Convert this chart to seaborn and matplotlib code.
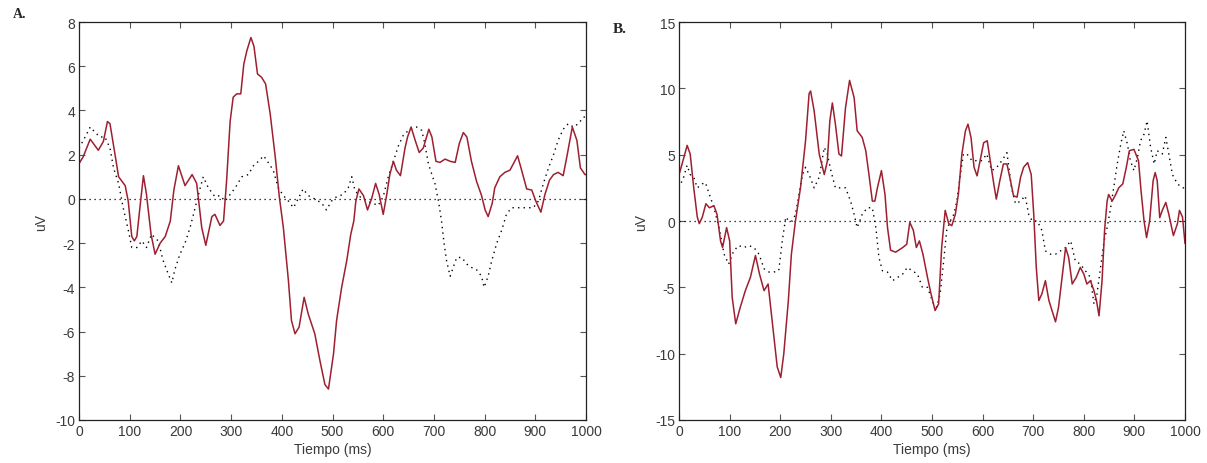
import matplotlib
matplotlib.use("Agg")
import matplotlib.pyplot as plt
import numpy as np
import seaborn as sns
import pandas as pd

# ---- panel A ----
a_red_t = [0, 8, 22, 38, 48, 56, 61, 71, 78, 91, 97, 104, 109, 114, 120, 127, 133, 142, 150, 160,
           170, 180, 187, 196, 209, 223, 232, 242, 250, 262, 268, 278, 285, 291, 298, 304, 311, 319,
           325, 331, 339, 345, 352, 360, 368, 377, 387, 395, 403, 413, 419, 426, 434, 444, 452, 465,
           475, 485, 492, 502, 508, 518, 528, 536, 542, 546, 552, 561, 569, 577, 585, 592, 600, 607,
           613, 620, 626, 634, 643, 648, 655, 663, 671, 679, 690, 696, 704, 712, 722, 732, 742, 750,
           758, 765, 774, 784, 794, 801, 807, 815, 820, 830, 840, 850, 857, 865, 873, 883, 893, 901,
           911, 919, 928, 936, 945, 955, 963, 973, 982, 989, 998, 1000]
a_red_v = [1.6, 1.9, 2.7, 2.2, 2.6, 3.5, 3.4, 2.0, 1.0, 0.6, -0.1, -1.7, -1.9, -1.7, -0.4, 1.05, 0.2,
           -1.6, -2.5, -2.0, -1.7, -1.0, 0.4, 1.5, 0.6, 1.1, 0.7, -1.3, -2.1, -0.8, -0.7, -1.2, -1.0,
           0.8, 3.5, 4.6, 4.75, 4.75, 6.1, 6.7, 7.3, 6.9, 5.65, 5.5, 5.2, 3.85, 1.9, 0.1, -1.3, -3.7,
           -5.5, -6.1, -5.8, -4.45, -5.2, -6.1, -7.3, -8.4, -8.6, -7.0, -5.5, -4.0, -2.8, -1.6, -1.0,
           -0.1, 0.45, 0.15, -0.5, 0.0, 0.7, 0.2, -0.7, 0.2, 1.1, 1.7, 1.3, 1.05, 2.3, 2.8, 3.25, 2.65,
           2.1, 2.3, 3.15, 2.8, 1.7, 1.65, 1.8, 1.7, 1.65, 2.5, 3.0, 2.8, 1.7, 0.8, 0.15, -0.5, -0.8,
           -0.2, 0.5, 1.0, 1.2, 1.3, 1.6, 1.95, 1.3, 0.45, 0.4, -0.1, -0.6, 0.2, 0.85, 1.1, 1.2, 1.05,
           2.0, 3.25, 2.65, 1.4, 1.1, 1.1]

a_dot_t = [0, 12, 22, 32, 41, 51, 61, 68, 78, 87, 97, 104, 114, 124, 133, 143, 156, 166, 176, 183,
           189, 199, 209, 219, 229, 239, 245, 255, 268, 278, 288, 298, 308, 321, 334, 344, 354, 364,
           373, 383, 393, 403, 413, 423, 432, 442, 452, 465, 479, 488, 498, 508, 521, 531, 538, 544,
           554, 567, 580, 590, 600, 610, 620, 630, 640, 653, 666, 676, 682, 689, 696, 702, 709, 715,
           720, 725, 732, 738, 745, 755, 765, 774, 784, 794, 799, 807, 814, 824, 834, 843, 853, 866,
           883, 896, 906, 916, 926, 936, 945, 955, 965, 975, 985, 995, 1000]
a_dot_v = [2.3, 2.8, 3.25, 3.0, 2.8, 2.8, 2.3, 1.4, 0.7, -0.4, -1.4, -2.2, -2.2, -1.9, -2.2, -1.6,
           -1.9, -2.8, -3.4, -3.8, -3.2, -2.5, -2.0, -1.3, -0.4, 0.5, 1.0, 0.5, 0.1, 0.15, -0.1, 0.2,
           0.5, 1.0, 1.1, 1.5, 1.7, 1.95, 1.65, 1.3, 0.5, 0.15, -0.1, -0.4, 0.0, 0.45, 0.15, 0.0, -0.2,
           -0.5, -0.1, 0.1, 0.2, 0.5, 1.0, 0.4, 0.1, -0.1, -0.2, -0.3, 0.1, 1.0, 1.7, 2.4, 2.9, 3.15,
           3.25, 3.1, 2.5, 1.6, 1.1, 0.7, -0.1, -1.0, -2.0, -2.8, -3.5, -3.1, -2.65, -2.65, -2.95, -3.1,
           -3.2, -3.5, -4.0, -3.5, -2.8, -2.0, -1.4, -0.7, -0.4, -0.4, -0.4, -0.4, -0.1, 0.7, 1.4, 2.0,
           2.65, 3.15, 3.4, 3.25, 3.4, 3.7, 3.7]

# ---- panel B ----
b_red_t = [0, 6, 16, 22, 29, 36, 40, 46, 53, 60, 69, 75, 82, 86, 94, 100, 105, 112, 121, 131, 141,
           151, 159, 168, 176, 184, 194, 201, 207, 216, 222, 230, 240, 250, 257, 260, 267, 277, 287,
           293, 298, 303, 309, 316, 321, 329, 337, 346, 352, 362, 369, 376, 382, 387, 392, 400, 407,
           412, 418, 428, 442, 450, 456, 463, 469, 475, 482, 491, 498, 506, 513, 519, 526, 533, 539,
           546, 552, 559, 566, 571, 577, 583, 589, 595, 602, 609, 615, 622, 627, 634, 641, 648, 655,
           661, 668, 675, 681, 689, 696, 701, 706, 711, 717, 724, 731, 739, 744, 750, 757, 764, 770,
           777, 785, 793, 800, 806, 813, 820, 825, 830, 836, 841, 846, 849, 856, 863, 869, 877, 884,
           890, 899, 908, 913, 919, 924, 930, 937, 941, 945, 950, 955, 962, 968, 977, 985, 989, 995,
           1000]
b_red_v = [3.5, 4.3, 5.7, 5.05, 2.5, 0.3, -0.2, 0.3, 1.3, 1.0, 1.15, 0.5, -1.5, -2.0, -0.5, -1.5,
           -5.75, -7.75, -6.5, -5.25, -4.25, -2.6, -4.0, -5.25, -4.75, -7.5, -11.0, -11.8, -10.0, -6.0,
           -2.5, 0.0, 2.5, 6.05, 9.6, 9.8, 8.3, 5.05, 3.5, 4.5, 7.55, 8.9, 7.3, 5.05, 4.9, 8.55, 10.6,
           9.3, 6.8, 6.3, 5.3, 3.3, 1.5, 1.5, 2.5, 3.8, 2.0, -0.5, -2.2, -2.35, -2.0, -1.75, -0.1, -0.7,
           -2.0, -1.5, -2.5, -4.25, -5.5, -6.75, -6.25, -2.0, 0.8, -0.2, -0.35, 0.5, 2.0, 5.05, 6.8,
           7.3, 6.3, 4.05, 3.4, 4.55, 5.9, 6.05, 4.55, 2.8, 1.65, 3.05, 4.3, 4.3, 3.05, 1.9, 1.8, 3.3,
           4.05, 4.4, 3.5, 0.5, -3.5, -6.0, -5.5, -4.5, -6.0, -7.0, -7.6, -6.5, -4.25, -2.0, -2.75,
           -4.75, -4.25, -3.5, -4.0, -4.75, -4.5, -5.25, -6.0, -7.15, -4.5, -0.7, 1.5, 2.0, 1.5, 2.0,
           2.5, 2.8, 4.05, 5.3, 5.4, 4.55, 2.3, 0.0, -1.25, 0.0, 3.05, 3.65, 3.05, 0.25, 0.8, 1.4, 0.5,
           -1.1, -0.2, 0.8, 0.3, -1.7]

b_dot_t = [0, 9, 16, 22, 29, 36, 46, 52, 60, 69, 79, 89, 98, 108, 118, 128, 138, 148, 158, 168, 178,
           187, 197, 204, 211, 217, 224, 230, 237, 244, 250, 257, 267, 277, 287, 293, 300, 309, 319,
           329, 339, 346, 352, 362, 372, 382, 389, 395, 402, 412, 422, 432, 442, 451, 461, 471, 481,
           491, 503, 509, 516, 523, 529, 536, 543, 549, 556, 562, 569, 579, 589, 599, 608, 618, 628,
           638, 648, 657, 665, 675, 684, 691, 698, 708, 717, 724, 734, 744, 754, 764, 774, 783, 793,
           803, 813, 820, 826, 833, 840, 846, 853, 859, 866, 873, 879, 886, 892, 899, 906, 912, 919,
           925, 932, 939, 945, 955, 962, 968, 975, 985, 995, 1000]
b_dot_v = [2.5, 3.3, 4.2, 3.5, 3.3, 2.5, 2.8, 2.9, 2.0, 1.0, -0.5, -2.5, -3.25, -2.25, -1.85, -2.0,
           -1.85, -2.0, -2.5, -3.6, -3.85, -3.85, -3.75, -1.5, 0.3, 0.0, 0.0, 0.5, 2.0, 3.5, 4.05, 3.5,
           2.5, 3.3, 5.55, 5.05, 3.8, 2.5, 2.5, 2.5, 1.5, 0.5, -0.5, 0.5, 1.0, 1.0, -0.5, -2.75, -3.75,
           -3.85, -4.5, -4.25, -4.0, -3.5, -3.75, -4.0, -5.0, -5.0, -6.25, -6.5, -5.5, -3.0, -0.7, 0.0,
           0.5, 1.5, 3.5, 5.05, 5.05, 4.55, 4.55, 4.55, 5.05, 3.8, 4.05, 4.55, 5.15, 2.5, 1.3, 1.5, 1.9,
           0.5, 0.0, 0.0, -0.7, -2.25, -2.5, -2.5, -2.25, -2.0, -1.5, -3.0, -3.25, -3.75, -4.25, -6.25,
           -5.5, -3.5, -1.5, -0.5, 1.0, 2.5, 4.3, 5.8, 6.8, 5.8, 4.55, 3.8, 4.8, 6.05, 6.55, 7.55, 5.55,
           4.3, 5.3, 5.05, 6.3, 5.05, 3.5, 2.8, 2.5, 2.5]

x_ticks = [0, 100, 200, 300, 400, 500, 600, 700, 800, 900, 1000]
a_yticks = [-10, -8, -6, -4, -2, 0, 2, 4, 6, 8]
b_yticks = [-15, -10, -5, 0, 5, 10, 15]

sns.set_style("ticks")
plt.rcParams['font.family'] = ['Liberation Sans Narrow', 'Liberation Sans', 'DejaVu Sans']
plt.rcParams['axes.unicode_minus'] = False

red = "#9e1f30"
txt = "#3a3a3a"

fig = plt.figure(figsize=(12.07, 4.64), dpi=100)
ax_a = fig.add_axes([0.0655, 0.0927, 0.42, 0.8577])
ax_b = fig.add_axes([0.5626, 0.0927, 0.4192, 0.8577])


def draw_panel(ax, red_t, red_v, dot_t, dot_v, yticks):
    df_red = pd.DataFrame({'t': red_t, 'v': red_v})
    df_dot = pd.DataFrame({'t': dot_t, 'v': dot_v})
    # línea de cero
    ax.plot([0, 1000], [0, 0], color='black', linestyle=(0, (1, 3)), linewidth=0.9)
    sns.lineplot(data=df_dot, x='t', y='v', ax=ax, color='black', linestyle=(0, (1, 3)),
                 linewidth=1.0, sort=False, estimator=None)
    sns.lineplot(data=df_red, x='t', y='v', ax=ax, color=red, linewidth=1.1,
                 sort=False, estimator=None)
    ax.set_xlim(0, 1000)
    ax.set_ylim(yticks[0], yticks[-1])
    ax.set_xticks(x_ticks)
    ax.set_yticks(yticks)
    ax.tick_params(direction='in', top=True, right=True, length=4, width=0.8,
                   labelsize=10, labelcolor=txt, color='#555555', pad=3)
    for s in ax.spines.values():
        s.set_visible(True)
        s.set_linewidth(0.9)
        s.set_color('#222222')
    ax.set_xlabel('Tiempo (ms)', fontsize=10, color=txt, labelpad=3)
    ax.set_ylabel('uV', fontsize=10, color=txt, labelpad=5)


draw_panel(ax_a, a_red_t, a_red_v, a_dot_t, a_dot_v, a_yticks)
draw_panel(ax_b, b_red_t, b_red_v, b_dot_t, b_dot_v, b_yticks)

fig.text(0.011, 0.968, 'A.', family='Liberation Serif', fontweight='bold', fontsize=10,
         va='center', ha='left')
fig.text(0.508, 0.937, 'B.', family='Liberation Serif', fontweight='bold', fontsize=11,
         va='center', ha='left')

fig.savefig('out.png', dpi=100)
